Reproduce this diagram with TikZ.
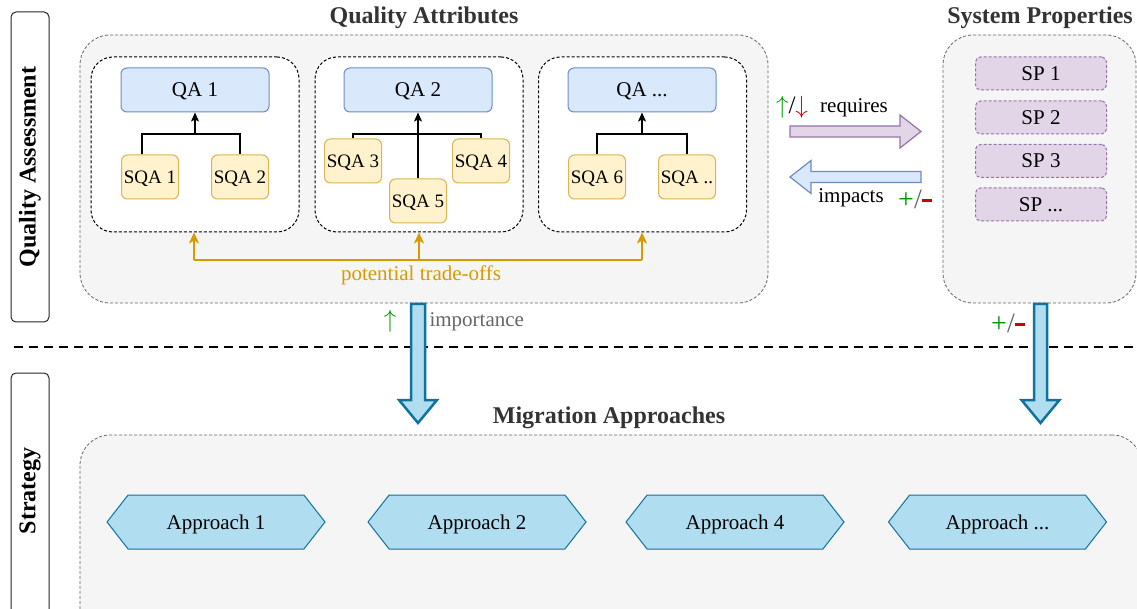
\documentclass[tikz,border=0pt]{standalone}
\usepackage{fontspec}
\setmainfont{Liberation Serif}
\usetikzlibrary{arrows.meta,calc,shapes.symbols}
\definecolor{qafill}{HTML}{DAE8FC}
\definecolor{qadraw}{HTML}{6C8EBF}
\definecolor{sqafill}{HTML}{FFF2CC}
\definecolor{sqadraw}{HTML}{D6B656}
\definecolor{spfill}{HTML}{E1D5E7}
\definecolor{spdraw}{HTML}{9673A6}
\definecolor{apfill}{HTML}{B1DDF0}
\definecolor{apdraw}{HTML}{10739E}
\definecolor{groupfill}{HTML}{F5F5F5}
\definecolor{groupdraw}{HTML}{666666}
\definecolor{tradeoff}{HTML}{D79B00}
\definecolor{upgreen}{HTML}{009900}
\definecolor{downred}{HTML}{CC0000}
\definecolor{titlegray}{HTML}{333333}
\newcommand{\plusminus}{{\color{upgreen}+}{\color{groupdraw}/}{\color{downred}\rule[6pt]{10pt}{3.5pt}}}
\begin{document}
\begin{tikzpicture}[x=1pt, y=-1pt,
    txt/.style={font=\fontsize{21}{24}\selectfont},
    group/.style={draw=groupdraw, fill=groupfill, line width=0.8pt, dash pattern=on 3pt off 2pt, rounded corners=30pt},
    cluster/.style={draw=black, fill=white, line width=1pt, dash pattern=on 3pt off 2pt, rounded corners=22pt, minimum width=208pt, minimum height=175pt},
    qa/.style={txt, text depth=0pt, draw=qadraw, fill=qafill, line width=1pt, rounded corners=6pt, minimum width=148pt, minimum height=44pt},
    sqa/.style={text depth=0pt, draw=sqadraw, fill=sqafill, line width=1pt, rounded corners=6pt, inner sep=0pt, minimum width=57pt, minimum height=44pt, font=\fontsize{19}{22}\selectfont},
    sp/.style={txt, text depth=0pt, draw=spdraw, fill=spfill, line width=1pt, dash pattern=on 3pt off 2pt, rounded corners=5pt, minimum width=131pt, minimum height=33pt},
    approach/.style={txt, text depth=0pt, signal, signal to=west and east, signal pointer angle=104, draw=apdraw, fill=apfill, line width=1pt, inner sep=0pt, minimum width=218pt, minimum height=54pt},
    title/.style={font=\bfseries\fontsize{24}{28}\selectfont, text=titlegray},
    lane/.style={draw=black!85, fill=white, line width=1pt, rounded corners=5pt},
    lanetext/.style={font=\bfseries\fontsize{24}{28}\selectfont, rotate=90},
    tree/.style={line width=1.2pt},
    treearrow/.style={tree, -{Stealth[length=9pt, width=8pt, inset=2pt]}},
    tradeline/.style={draw=tradeoff, line width=2pt},
    tradearrow/.style={tradeline, -{Stealth[length=11pt, width=10pt, inset=3pt]}},
    fatblue/.style={draw=apdraw, fill=apfill, line width=2.5pt},
    fatpurple/.style={draw=spdraw, fill=spfill, line width=1.2pt},
    fatlight/.style={draw=qadraw, fill=qafill, line width=1.2pt}]
\useasboundingbox (0,0) rectangle (1137,609);

% lanes
\draw[lane] (11,12) rectangle (49,322);
\draw[lane] (11,373) rectangle (49,640);
\node[lanetext] (laneqa) at (30,167) {Quality Assessment};
\node[lanetext] (lanest) at (30,491) {Strategy};
\draw[line width=2.5pt, dash pattern=on 9pt off 6pt] (14,347) -- (1137,347);

% quality attributes
\node[group, minimum width=688pt, minimum height=268pt] (qagroup) at (424,169) {};
\node[title] (qatitle) at (424,18) {Quality Attributes};
\node[cluster] (cl1) at (195,144.5) {};
\node[cluster] (cl2) at (419,144.5) {};
\node[cluster] (cl3) at (642.5,144.5) {};

\node[qa] (qa1) at (195,90) {QA 1};
\node[qa] (qa2) at (418,90) {QA 2};
\node[qa] (qa3) at (642,90) {QA ...};

\node[sqa] (sqa1) at (150,177) {SQA 1};
\node[sqa] (sqa2) at (240,177) {SQA 2};
\node[sqa] (sqa3) at (353,161) {SQA 3};
\node[sqa] (sqa4) at (481,161) {SQA 4};
\node[sqa] (sqa5) at (418,201) {SQA 5};
\node[sqa] (sqa6) at (597,177) {SQA 6};
\node[sqa] (sqa7) at (687,177) {SQA ..};

\coordinate (tree1) at (195,134);
\coordinate (tree2) at (418,134);
\coordinate (tree3) at (642,134);
\draw[tree] ($(sqa1.north)+(-8,0)$) |- (tree1) -| (sqa2.north);
\draw[treearrow] (tree1) -- (qa1.south);
\draw[tree] (sqa3.north) |- (tree2) -| (sqa4.north);
\draw[treearrow] (sqa5.north) -- (qa2.south);
\draw[tree] (sqa6.north) |- (tree3) -| (sqa7.north);
\draw[treearrow] (tree3) -- (qa3.south);

% trade-offs
\coordinate (trL) at (194,260);
\coordinate (trR) at (642,260);
\draw[tradeline] (trL) -- (trR);
\draw[tradearrow] (trL) -- (cl1.south -| trL);
\draw[tradearrow] (cl2.south |- trL) -- (cl2.south);
\draw[tradearrow] (trR) -- (cl3.south -| trR);
\node[txt, text=tradeoff] (tradetext) at (421,275) {potential trade-offs};

% system properties
\node[group, minimum width=193pt, minimum height=268pt] (spgroup) at (1039.5,169) {};
\node[title] (sptitle) at (1040,18) {System Properties};
\node[sp] (sp1) at (1041,73.5) {SP 1};
\node[sp] (sp2) at (1041,117.5) {SP 2};
\node[sp] (sp3) at (1041,161) {SP 3};
\node[sp] (sp4) at (1041,204.5) {SP ...};

% requires / impacts
\coordinate (reqS) at (790,131.5);
\coordinate (reqE) at (921,131.5);
\draw[fatpurple] ($(reqS)+(0,-5.5)$) -- ($(reqE)+(-21,-5.5)$) -- ($(reqE)+(-21,-16.5)$) -- (reqE)
    -- ($(reqE)+(-21,16.5)$) -- ($(reqE)+(-21,5.5)$) -- ($(reqS)+(0,5.5)$) -- cycle;
\node[font=\fontsize{25}{28}\selectfont] (reqsign) at (792,107) {{\color{upgreen}$\uparrow$}/{\color{downred}$\downarrow$}};
\node[txt] (reqtext) at (854,108) {requires};

\coordinate (impS) at (921,177);
\coordinate (impE) at (790,177);
\draw[fatlight] ($(impS)+(0,-5.5)$) -- ($(impE)+(21,-5.5)$) -- ($(impE)+(21,-16.5)$) -- (impE)
    -- ($(impE)+(21,16.5)$) -- ($(impE)+(21,5.5)$) -- ($(impS)+(0,5.5)$) -- cycle;
\node[txt] (imptext) at (851,198) {impacts};
\node[font=\fontsize{28}{32}\selectfont] (impsign) at (915,199) {\plusminus};

% towards strategy
\coordinate (prioS) at (418,304);
\coordinate (prioE) at (418,423);
\draw[fatblue] ($(prioS)+(-7,0)$) -- ($(prioS)+(7,0)$) -- ($(prioE)+(7,-23)$) -- ($(prioE)+(19,-23)$) -- (prioE)
    -- ($(prioE)+(-19,-23)$) -- ($(prioE)+(-7,-23)$) -- cycle;
\node[font=\fontsize{26}{30}\selectfont, text=upgreen] (priosign) at (390,321) {$\uparrow$};
\node[txt, text=groupdraw, anchor=west] (priotext) at (426,322) {importance};

\coordinate (propS) at (1040.5,304);
\coordinate (propE) at (1040.5,423);
\draw[fatblue] ($(propS)+(-6.5,0)$) -- ($(propS)+(6.5,0)$) -- ($(propE)+(6.5,-23)$) -- ($(propE)+(19,-23)$) -- (propE)
    -- ($(propE)+(-19,-23)$) -- ($(propE)+(-6.5,-23)$) -- cycle;
\node[font=\fontsize{28}{32}\selectfont] (propsign) at (1008,323) {\plusminus};

% migration approaches
\node[group, minimum width=1062pt, minimum height=210pt] (mgroup) at (611,540) {};
\node[title] (mtitle) at (609,418) {Migration Approaches};
\node[approach] (ap1) at (216,522) {Approach 1};
\node[approach] (ap2) at (477,522) {Approach 2};
\node[approach] (ap4) at (735,522) {Approach 4};
\node[approach] (ap5) at (997.5,522) {Approach ...};
\end{tikzpicture}
\end{document}
